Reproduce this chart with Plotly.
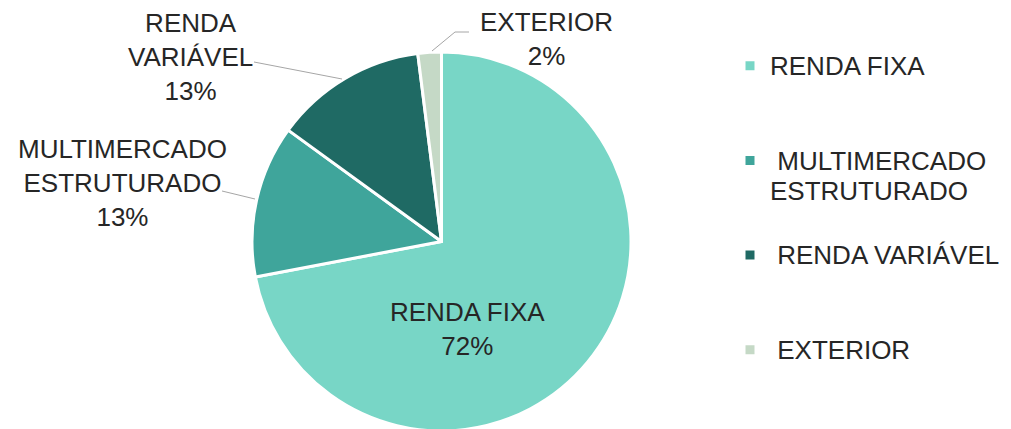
import plotly.graph_objects as go

# ---- data ----
categories = ["RENDA FIXA", "MULTIMERCADO ESTRUTURADO", "RENDA VARIÁVEL", "EXTERIOR"]
values = [72, 13, 13, 2]
colors = ["#78d6c6", "#3fa59b", "#1f6a64", "#c5d9c6"]

W, H = 1011, 429
OFF = 8  # page body margin added by the browser
FONT = "Liberation Sans, Arial, sans-serif"
TXT = "#262626"
LABEL_SIZE = 26
LEGEND_TEXT_SIZE = 26


def X(px):
    return (px - OFF) / W


def Y(py):
    return 1 - (py - OFF) / H


def big(s):
    return f"<span style='font-size:{LEGEND_TEXT_SIZE}px'>{s}</span>"


# legend labels (padded to equal height; some have a leading space as in the original)
legend_text = [
    ["RENDA FIXA", " ", " "],
    [" MULTIMERCADO", "ESTRUTURADO", " "],
    [" RENDA VARIÁVEL", " ", " "],
    [" EXTERIOR", " ", " "],
]
legend_labels = ["<br>".join(big(t) for t in lines) for lines in legend_text]

total = sum(values)
pct = [round(v * 100 / total) for v in values]

fig = go.Figure(
    go.Pie(
        labels=legend_labels,
        values=values,
        customdata=categories,
        sort=False,
        direction="clockwise",
        rotation=0,
        marker=dict(colors=colors, line=dict(color="white", width=3)),
        textinfo="none",
        hovertemplate="%{customdata}: %{percent}<extra></extra>",
        domain=dict(x=[X(252), X(631)], y=[Y(431), Y(52)]),
    )
)

# slice labels
ann = [
    (f"RENDA FIXA<br>{pct[0]}%", 467, 329),
    (f"MULTIMERCADO<br>ESTRUTURADO<br>{pct[1]}%", 122, 183),
    (f"RENDA<br>VARIÁVEL<br>{pct[2]}%", 190, 57),
    (f"EXTERIOR<br>{pct[3]}%", 546, 39),
]
for text, ax, ay in ann:
    fig.add_annotation(
        text=text, x=X(ax), y=Y(ay), xref="paper", yref="paper",
        xanchor="center", yanchor="middle", showarrow=False, align="center",
        font=dict(family=FONT, size=LABEL_SIZE, color=TXT),
    )

# leader lines
LC = "#a6a6a6"
fig.add_shape(type="line", xref="paper", yref="paper",
              x0=X(254), y0=Y(62), x1=X(342), y1=Y(79), line=dict(color=LC, width=1))
fig.add_shape(type="line", xref="paper", yref="paper",
              x0=X(222), y0=Y(191), x1=X(255), y1=Y(199), line=dict(color=LC, width=1))
fig.add_shape(type="path", xref="paper", yref="paper",
              path=f"M {X(432)} {Y(51)} L {X(455)} {Y(32)} L {X(469)} {Y(32)}",
              line=dict(color=LC, width=1))

fig.update_layout(
    width=W, height=H,
    margin=dict(l=0, r=0, t=0, b=0),
    paper_bgcolor="white", plot_bgcolor="white",
    font=dict(family=FONT, color=TXT),
    showlegend=True,
    legend=dict(
        x=X(730), y=Y(44), xanchor="left", yanchor="top",
        valign="top",
        font=dict(family=FONT, size=23.5, color=TXT),
        bgcolor="rgba(0,0,0,0)",
    ),
)

fig.write_html("out.html")
